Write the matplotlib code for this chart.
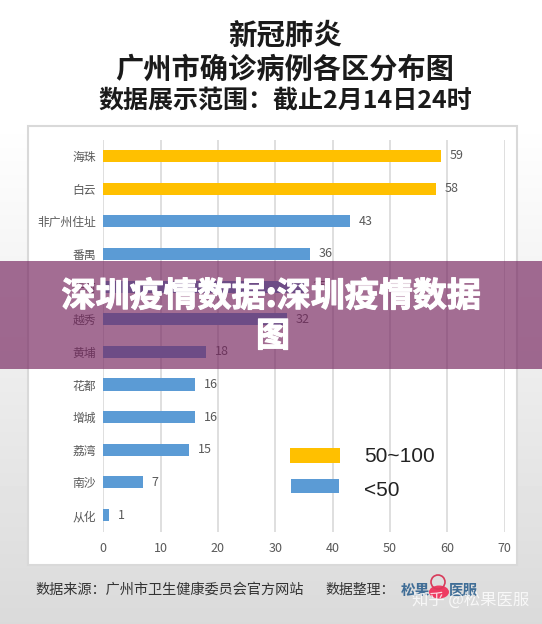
import numpy as np
import matplotlib
matplotlib.use('Agg')
import matplotlib.pyplot as plt
import matplotlib.patheffects as pe
from matplotlib.patches import Rectangle, Circle, Ellipse

plt.rcParams['font.family'] = ['Noto Sans CJK SC', 'DejaVu Sans']

districts = ['海珠', '白云', '非广州住址', '番禺', '天河', '越秀', '黄埔', '花都', '增城', '荔湾', '南沙', '从化']
cases = [59, 58, 43, 36, 35, 32, 18, 16, 16, 15, 7, 1]
ticks = [0, 10, 20, 30, 40, 50, 60, 70]
legend_labels = ['50~100', '<50']
title_lines = ['新冠肺炎', '广州市确诊病例各区分布图', '数据展示范围：截止2月14日24时']
banner_lines = ['深圳疫情数据:深圳疫情数据', '图']

W, H = 542, 624
GOLD = '#ffc000'
BLUE = '#5b9bd5'
colors = [GOLD if v >= 50 else BLUE for v in cases]

fig = plt.figure(figsize=(W / 100, H / 100), dpi=100)

# 整张图的坐标按像素算，y 向下
bg = fig.add_axes([0, 0, 1, 1])
bg.set_xlim(0, W)
bg.set_ylim(H, 0)
bg.axis('off')
grad = np.concatenate([np.ones(120), np.linspace(1, 0.855, H - 120)]).reshape(-1, 1)
bg.imshow(grad, extent=[0, W, H, 0], cmap='gray', vmin=0, vmax=1, aspect='auto', zorder=0)
bg.add_patch(Rectangle((28, 126), 489, 439, fc='white', ec='#d9d9d9', lw=1.5, zorder=1))

# 标题
bg.text(285, 36, title_lines[0], fontsize=20.5, fontweight='black', ha='center', va='center', color='#1a1a1a', zorder=2)
bg.text(285, 70, title_lines[1], fontsize=20.3, fontweight='bold', ha='center', va='center', color='#1a1a1a', zorder=2)
bg.text(285, 101, title_lines[2], fontsize=18, fontweight='black', ha='center', va='center', color='#1a1a1a', zorder=2)

# 柱状图
ax = fig.add_axes([103.2 / W, 1 - 532 / H, (504.5 - 103.2) / W, (532 - 140) / H])
ax.patch.set_alpha(0)
y = np.arange(len(districts))
ax.barh(y, cases, height=0.37, color=colors, zorder=3)
ax.set_xlim(0, 70)
ax.set_ylim(11.52, -0.49)
ax.set_xticks(ticks)
ax.set_yticks(y)
ax.set_yticklabels(districts)
ax.tick_params(length=0, labelcolor='#595959')
ax.tick_params(axis='x', pad=7, labelsize=9)
ax.tick_params(axis='y', pad=5, labelsize=8.5)
ax.grid(axis='x', color='#d9d9d9', lw=1.2, zorder=1)
for s in ax.spines.values():
    s.set_visible(False)
for i, v in enumerate(cases):
    ax.text(v + 1.5, i, str(v), va='center', ha='left', fontsize=9, color='#595959', zorder=4)

# 底部
bg.text(35, 590, '数据来源：广州市卫生健康委员会官方网站', fontsize=10.2, va='center', color='#333333', zorder=2)
bg.text(325, 590, '数据整理：', fontsize=10, va='center', color='#333333', zorder=2)
bg.text(401, 590, '松果', fontsize=10.5, fontweight='bold', va='center', color='#3f6d96', zorder=2)
bg.text(449, 590, '医服', fontsize=10.5, fontweight='bold', va='center', color='#3f6d96', zorder=2)
bg.add_patch(Ellipse((439, 592), 20, 13, fc='#ee3b62', lw=0, zorder=2))
bg.add_patch(Circle((438, 582), 7, fc='none', ec='#d83a5a', lw=1.2, zorder=2))
bg.text(529, 600, '知乎 @松果医服', fontsize=11.8, ha='right', va='center', color='white', alpha=0.8, zorder=3)

# 图例和横幅盖在网格线上面
over = fig.add_axes([0, 0, 1, 1])
over.set_xlim(0, W)
over.set_ylim(H, 0)
over.axis('off')
over.patch.set_alpha(0)
over.add_patch(Rectangle((290, 448), 50, 15, fc=GOLD, lw=0))
over.add_patch(Rectangle((291, 479), 48, 14, fc=BLUE, lw=0))
over.text(364, 456, legend_labels[0], fontsize=15, va='center', color='#222222', family='Liberation Sans')
over.text(364, 491, legend_labels[1], fontsize=15, va='center', color='#222222', family='Liberation Sans')

over.add_patch(Rectangle((0, 261), W, 108, fc=(118 / 255, 37 / 255, 95 / 255), alpha=0.67, lw=0))
stroke = [pe.withStroke(linewidth=0.8, foreground='white')]
over.text(271, 296, banner_lines[0], fontsize=24.5, fontweight='black', color='white', ha='center', va='center', path_effects=stroke)
over.text(273, 336, banner_lines[1], fontsize=24.5, fontweight='black', color='white', ha='center', va='center', path_effects=stroke)

fig.savefig('out.png', dpi=100)
